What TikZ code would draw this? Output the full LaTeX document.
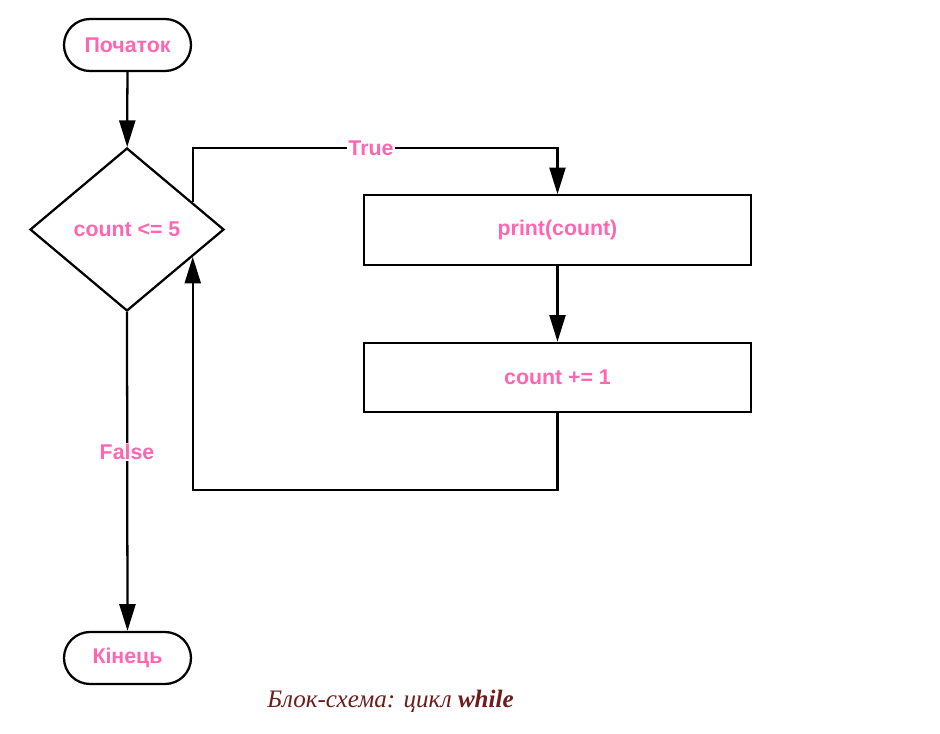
\documentclass[tikz,border=0pt]{standalone}
\usepackage{fontspec}
\setmainfont{Liberation Sans}
\newfontfamily\capfont{Liberation Serif}
\usetikzlibrary{arrows.meta,calc,shapes.geometric}
\definecolor{pinktxt}{RGB}{255,102,178}
\definecolor{capred}{RGB}{110,28,28}
\tikzset{
  base/.style={draw=black,line width=1.7pt,fill=white,text=pinktxt,font=\fontsize{16}{18}\selectfont\bfseries,inner sep=0pt},
  term/.style={base,rectangle,rounded corners=19.5pt,minimum width=95.25pt,minimum height=39pt},
  proc/.style={base,rectangle,minimum width=290.25pt,minimum height=52pt},
  dec/.style={base,diamond,minimum width=145.5pt,minimum height=122.25pt,aspect=1.19},
  conn/.style={line width=1.7pt,draw=black},
  arr/.style={conn,-{Triangle[length=20pt,width=12pt]}},
  lbl/.style={fill=white,text=pinktxt,font=\fontsize{16}{18}\selectfont\bfseries,inner sep=1pt}
}
\begin{document}
\begin{tikzpicture}[x=0.75pt,y=-0.75pt]
\path[use as bounding box,fill=white] (0,0) rectangle (940,733);
\node[term] (start) at (127.5,45) {Початок};
\node[dec] (cond) at (127,229.5) {count <= 5};
\node[proc] (p1) at (557.5,230) {print(count)};
\node[proc] (p2) at (557.5,377.5) {count += 1};
\node[term] (end) at (127.5,658) {Кінець};
\coordinate (dtop) at ($(cond.north)!0.67!(cond.east)$);
\coordinate (dbot) at ($(cond.south)!0.67!(cond.east)$);
\coordinate (tc) at (dtop |- 0,148);
\coordinate (lc) at (dtop |- 0,490);
\draw[arr] (start) -- (cond);
\draw[arr] (dtop) -- (tc) -| (p1.north);
\node[lbl] (tl) at (371,148) {True};
\draw[arr] (p1) -- (p2);
\draw[arr] (p2.south) |- (lc) -- (dbot);
\draw[arr] (cond.south) -- (end.north);
\node[lbl] (fl) at (127,452) {False};
\node[text=capred,font=\capfont\fontsize{18.8}{21}\selectfont\itshape] (cap) at (390.5,701) {Блок-схема: цикл \textbf{while}};
\end{tikzpicture}
\end{document}
